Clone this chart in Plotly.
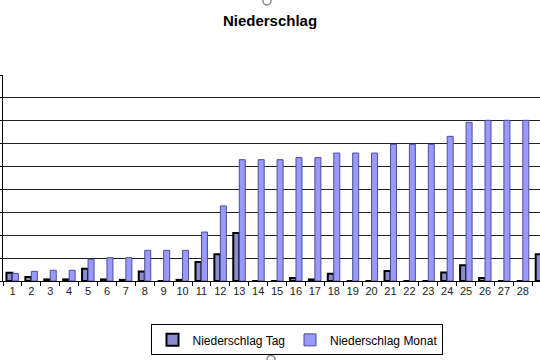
import plotly.graph_objects as go

days = [str(d) for d in range(1, 30)]
tag = [3.6, 1.7, 0.7, 0.7, 5.4, 0.7, 0.5, 4.2, 0.0, 0.5,
       8.3, 11.7, 21.0, 0.0, 0.0, 1.3, 0.7, 3.2, 0.0, 0.0,
       4.4, 0.0, 0.0, 3.7, 6.9, 1.3, 0.0, 0.0, 11.7]
monat = [3.3, 4.2, 4.7, 4.7, 9.5, 10.2, 10.2, 13.4, 13.4, 13.4,
         21.4, 32.8, 53.0, 53.0, 53.0, 53.9, 53.9, 55.9, 55.9, 55.9,
         59.7, 59.7, 59.7, 63.2, 69.3, 70.2, 70.2, 70.2, 81.9]

FONT = "Liberation Sans, Arial, sans-serif"

fig = go.Figure()
fig.add_trace(go.Bar(x=days, y=tag, name="Niederschlag Tag",
                     marker=dict(color="#8c8cd0", line=dict(color="#000000", width=2))))
fig.add_trace(go.Bar(x=days, y=monat, name="Niederschlag Monat",
                     marker=dict(color="#9999ff", line=dict(color="#4d4d99", width=1))))

fig.update_layout(
    width=540, height=360,
    margin=dict(l=3, r=0, t=75, b=79.3),
    paper_bgcolor="white", plot_bgcolor="white",
    font=dict(family=FONT, color="#000000"),
    title=dict(text="<b>Niederschlag</b>", x=0.5, xref="container", xanchor="center",
               y=1 - 21 / 360, yanchor="middle", yref="container",
               font=dict(size=15, family=FONT, color="#000000")),
    barmode="group", bargap=0.365, bargroupgap=0,
    showlegend=True,
    legend=dict(orientation="h", x=0.5484, xanchor="center", y=-0.2105, yanchor="top",
                bordercolor="#000000", borderwidth=1, bgcolor="white",
                font=dict(size=12, family=FONT), itemwidth=30,
                traceorder="normal"),
    xaxis=dict(type="category", range=[-0.5, 27.91], showline=True, linecolor="#000000",
               linewidth=1, ticks="outside", ticklen=4, tickcolor="#000000",
               tickson="boundaries", showgrid=False, tickangle=0,
               tickfont=dict(size=11, family=FONT, color="#222222")),
    yaxis=dict(range=[0, 90], dtick=10, showline=True, linecolor="#000000", linewidth=1,
               ticks="outside", ticklen=3, tickcolor="#000000", showticklabels=False,
               showgrid=True, gridcolor="#222222", gridwidth=1, zeroline=False),
)


def px_to_paper_x(px):
    return (px - 3) / 537


def px_to_paper_y(py):
    return (280.7 - py) / 205.7


# selection-handle circles (artefacts of the original screenshot)
for cx, cy in [(267, 1), (271, 359)]:
    fig.add_shape(type="circle", xref="paper", yref="paper", layer="above",
                  x0=px_to_paper_x(cx - 4), x1=px_to_paper_x(cx + 4),
                  y0=px_to_paper_y(cy + 4), y1=px_to_paper_y(cy - 4),
                  line=dict(color="#8a8a8a", width=1.5))

fig.write_html("out.html")
